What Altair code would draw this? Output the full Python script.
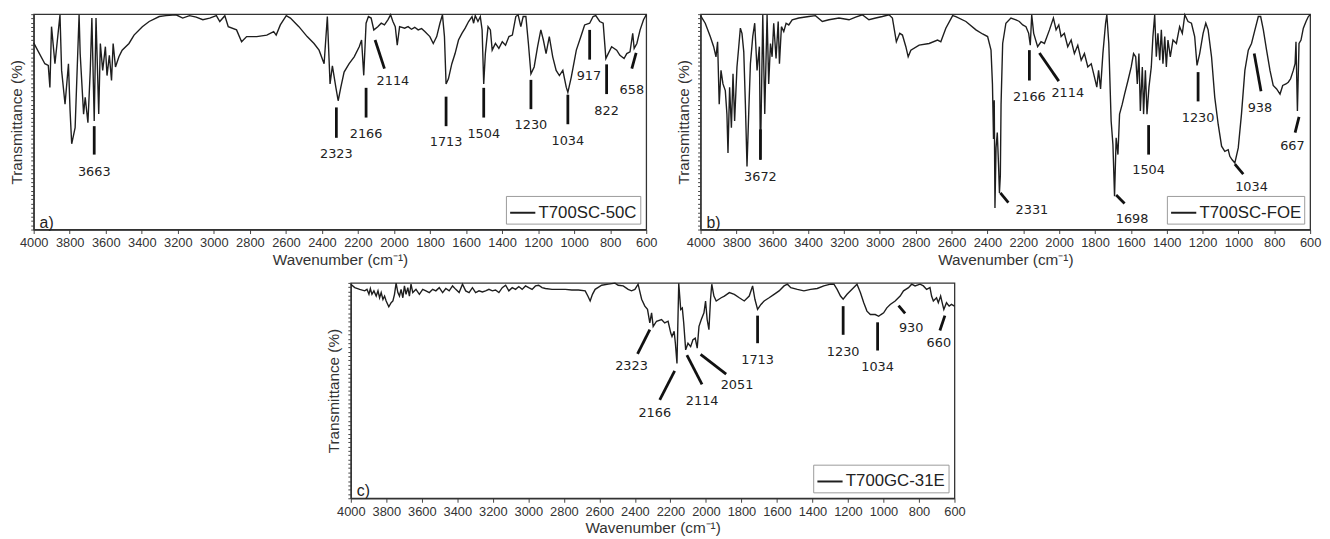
import altair as alt
import pandas as pd

# ---------------- Panel a) T700SC-50C ----------------
a_wn = [4000, 3938, 3919, 3910, 3901, 3882, 3854, 3845, 3826, 3807,
        3798, 3789, 3770, 3748, 3742, 3723, 3714, 3699, 3686, 3677,
        3664, 3654, 3639, 3630, 3617, 3602, 3593, 3580, 3568, 3559,
        3546, 3527, 3509, 3471, 3443, 3397, 3359, 3303, 3266, 3210,
        3173, 3135, 3098, 3061, 3023, 2986, 2967, 2939, 2920, 2874,
        2846, 2818, 2762, 2706, 2668, 2654, 2631, 2598, 2575, 2528,
        2482, 2444, 2416, 2388, 2370, 2355, 2342, 2323, 2310, 2295,
        2277, 2249, 2221, 2193, 2180, 2168, 2155, 2142, 2127, 2112,
        2090, 2071, 2053, 2034, 2019, 2006, 1993, 1982, 1969, 1941,
        1922, 1903, 1885, 1866, 1847, 1829, 1801, 1782, 1763, 1745,
        1731, 1720, 1711, 1698, 1679, 1661, 1642, 1623, 1605, 1586,
        1567, 1558, 1549, 1534, 1521, 1511, 1502, 1493, 1478, 1465,
        1455, 1437, 1418, 1399, 1381, 1362, 1343, 1324, 1311, 1296,
        1283, 1268, 1254, 1240, 1222, 1203, 1185, 1171, 1156, 1138,
        1119, 1100, 1082, 1063, 1044, 1035, 1016, 988, 960, 942,
        914, 895, 880, 858, 839, 824, 811, 792, 764, 746,
        723, 708, 690, 675, 667, 652, 634, 615, 600]
a_t = [86.7, 77, 76.2, 66, 94.2, 77, 99.7, 73.9, 58.2, 77,
       55.1, 39.8, 47.3, 99.7, 81.7, 53.6, 61.4, 49.6, 73.9, 98.2,
       50.4, 98.2, 53.6, 86.4, 73.9, 84.9, 71.5, 80.9, 69.2, 86.4,
       75.5, 80.2, 83.3, 86.4, 90.3, 94.2, 96.6, 98.9, 99.3, 99.7,
       98.2, 99.3, 98.6, 97.4, 98.2, 99.3, 96.6, 99.3, 94.2, 92.7,
       87.2, 89.6, 89.6, 90.3, 91.9, 90.3, 95, 99.3, 98.2, 94.2,
       89.6, 86.4, 83.3, 77, 98.9, 67.6, 76, 66.1, 59.8, 66.1,
       73.1, 77, 80.2, 84.9, 88, 71.6, 95.8, 98.9, 98.2, 92.7,
       94.2, 95.8, 95, 97.4, 99.7, 96.6, 94.2, 85.6, 94.2, 93.5,
       94.2, 93, 93.9, 92.7, 93.3, 91.9, 89.6, 86.4, 89.6, 95.8,
       99.7, 89.6, 67.6, 70, 77, 81.7, 88, 91.1, 93.5, 96.6,
       98.9, 95.8, 99.3, 96.6, 98.9, 92.7, 67.6, 81.7, 94.2, 92.7,
       83.3, 86.4, 84.1, 87.2, 85.6, 89.6, 90.3, 98.9, 99.7, 94.2,
       98.9, 98.9, 86.4, 72.3, 75.5, 84.9, 92.7, 88, 81.7, 89.6,
       80.2, 73.9, 71.5, 73.9, 66.1, 63.7, 70.8, 83.3, 90.3, 95,
       95.8, 98.9, 99.3, 96.6, 95.8, 79.4, 81.7, 84.9, 83.3, 80.9,
       79.4, 81.7, 82.5, 91.1, 84.1, 86.4, 92.7, 97.4, 99.7]
a_pk_label = ["3663", "2323", "2166", "2114", "1713", "1504", "1230", "1034", "917", "822", "658"]
a_pk_x1 = [3664, 2320, 2155, 2105, 1711, 1502, 1240, 1035, 914, 820, 656]
a_pk_y1 = [48, 56.7, 65.8, 88, 61.7, 65.8, 69.5, 62.6, 92.7, 76.7, 82]
a_pk_x2 = [3664, 2320, 2155, 2053, 1711, 1502, 1240, 1035, 914, 820, 680]
a_pk_y2 = [34.8, 42.6, 52, 74.7, 48, 52, 55.9, 48.9, 78.9, 62.9, 74.7]
a_pk_lx = [3664, 2320, 2155, 2006, 1711, 1502, 1240, 1035, 918, 820, 680]
a_pk_ly = [26.8, 35.1, 44.5, 68.9, 40.7, 44.5, 48.5, 41.3, 71.1, 55.1, 64.8]

# ---------------- Panel b) T700SC-FOE ----------------
b_wn = [4000, 3974, 3946, 3927, 3914, 3905, 3896, 3886, 3875, 3862,
        3853, 3847, 3838, 3828, 3819, 3810, 3797, 3787, 3778, 3769,
        3759, 3750, 3741, 3731, 3722, 3709, 3698, 3685, 3672, 3666,
        3653, 3642, 3629, 3620, 3610, 3601, 3592, 3579, 3567, 3560,
        3549, 3536, 3523, 3508, 3489, 3452, 3396, 3359, 3321, 3284,
        3228, 3172, 3135, 3098, 3061, 3023, 2986, 2949, 2930, 2908,
        2889, 2874, 2855, 2842, 2827, 2781, 2725, 2678, 2660, 2632,
        2594, 2576, 2520, 2464, 2427, 2399, 2380, 2372, 2366, 2362,
        2358, 2352, 2345, 2338, 2333, 2328, 2324, 2315, 2297, 2269,
        2241, 2222, 2203, 2185, 2170, 2161, 2153, 2142, 2120, 2101,
        2082, 2054, 2032, 2017, 2002, 1989, 1971, 1952, 1933, 1915,
        1896, 1877, 1859, 1840, 1821, 1803, 1790, 1780, 1769, 1756,
        1741, 1734, 1723, 1710, 1700, 1691, 1682, 1672, 1663, 1648,
        1635, 1616, 1598, 1585, 1573, 1564, 1555, 1547, 1536, 1529,
        1519, 1510, 1499, 1486, 1477, 1467, 1458, 1449, 1439, 1430,
        1421, 1411, 1402, 1393, 1380, 1365, 1346, 1328, 1313, 1299,
        1281, 1262, 1244, 1231, 1216, 1197, 1182, 1169, 1150, 1132,
        1113, 1094, 1076, 1057, 1048, 1035, 1020, 1001, 983, 964,
        945, 927, 908, 889, 876, 861, 843, 824, 806, 787,
        768, 753, 735, 722, 709, 694, 684, 679, 671, 662,
        651, 638, 623, 610, 600]
b_t = [99.3, 95.8, 89.6, 84.9, 80.2, 87.2, 58.2, 73.9, 67.6, 64.5,
       53.6, 35.6, 66.1, 47.3, 72.3, 50.4, 75.5, 84.9, 93.5, 91.1,
       82.5, 58.2, 29.3, 55.1, 77, 89.6, 95.8, 73.9, 84.9, 32.4,
       99.7, 53.6, 99.7, 67.6, 86.4, 80.2, 95.8, 79.4, 96.6, 77,
       94.2, 91.9, 95.8, 95, 97.4, 98.2, 98.9, 99.3, 96.6, 97.4,
       98.2, 97.4, 98.6, 99.7, 97.4, 98.2, 98.9, 99.7, 98.2, 87.2,
       91.1, 90.3, 84.9, 80.2, 83.3, 85.6, 86.4, 88, 87.2, 93.5,
       99.3, 98.9, 96.6, 92.7, 90.8, 89.6, 83.3, 67.6, 42, 60,
       10, 38, 45, 30, 17, 25, 58, 86.4, 95.8, 98.2,
       97.4, 96.6, 95, 94.2, 91.1, 85.6, 99.7, 91.1, 84.9, 87.2,
       86.4, 92.7, 98.2, 92.7, 95, 89.6, 91.1, 84.9, 88, 81.7,
       85.6, 78.6, 81.7, 75.5, 77, 70.8, 66.1, 73.9, 65.3, 81.7,
       95.8, 99.7, 86.4, 50.4, 39.5, 15.5, 42.6, 34.8, 53.6, 58.2,
       62.9, 69.2, 75.5, 81.7, 80.2, 67.6, 81.7, 55.1, 75.5, 53.6,
       73.9, 53.6, 66.1, 75.5, 89.6, 99.7, 80.2, 91.1, 78.6, 92.7,
       77, 89.6, 75.5, 88, 80.2, 88, 86.4, 94.2, 91.1, 99.7,
       96.6, 95.8, 89.6, 76.2, 81.7, 91.1, 95.8, 92.7, 80.2, 61.4,
       48.9, 38.7, 36.3, 37.1, 34, 32.4, 30.9, 37.9, 53.6, 73.9,
       83.3, 86.4, 92.7, 98.9, 98.9, 92.7, 83.3, 73.9, 66.9, 65.3,
       62.9, 66.9, 67.6, 68.4, 70, 73.9, 77, 87.2, 55.1, 86.4,
       88, 93.5, 96.6, 98.9, 99.7]
b_pk_label = ["3672", "2331", "2166", "2114", "1698", "1504", "1230", "1034", "938", "667"]
b_pk_x1 = [3666, 2328, 2166, 2110, 1682, 1501, 1225, 1020, 912, 662]
b_pk_y1 = [46.5, 17, 83.3, 82, 16, 48.5, 73.1, 30.4, 81.7, 52.3]
b_pk_x2 = [3666, 2283, 2166, 2002, 1635, 1501, 1225, 973, 874, 684]
b_pk_y2 = [32.4, 12.5, 69.2, 68.9, 12.1, 34.8, 59.5, 25.7, 64.2, 45]
b_pk_lx = [3666, 2152, 2166, 1952, 1593, 1501, 1225, 927, 880, 699]
b_pk_ly = [24.3, 9.1, 61.7, 63.3, 4.8, 27.4, 52, 19.9, 56.4, 38.7]

# ---------------- Panel c) T700GC-31E ----------------
c_wn = [4000, 3978, 3950, 3922, 3909, 3898, 3890, 3881, 3870, 3857,
        3847, 3838, 3829, 3819, 3810, 3801, 3786, 3773, 3763, 3754,
        3745, 3735, 3726, 3717, 3707, 3698, 3689, 3679, 3670, 3661,
        3651, 3633, 3614, 3595, 3577, 3558, 3539, 3521, 3502, 3483,
        3465, 3446, 3427, 3409, 3390, 3371, 3353, 3334, 3315, 3297,
        3278, 3259, 3241, 3222, 3203, 3185, 3166, 3147, 3128, 3110,
        3091, 3072, 3054, 3035, 3016, 2998, 2979, 2960, 2942, 2923,
        2904, 2867, 2830, 2792, 2755, 2718, 2680, 2665, 2652, 2639,
        2624, 2587, 2550, 2512, 2494, 2466, 2438, 2419, 2400, 2382,
        2362, 2344, 2329, 2316, 2306, 2297, 2278, 2250, 2232, 2213,
        2198, 2191, 2179, 2172, 2163, 2153, 2142, 2133, 2125, 2114,
        2101, 2086, 2073, 2060, 2049, 2039, 2026, 2011, 2002, 1993,
        1983, 1974, 1967, 1955, 1942, 1914, 1896, 1868, 1840, 1812,
        1784, 1756, 1737, 1724, 1709, 1690, 1672, 1644, 1616, 1588,
        1560, 1541, 1522, 1485, 1448, 1410, 1373, 1336, 1298, 1279,
        1261, 1242, 1227, 1205, 1177, 1149, 1130, 1111, 1093, 1074,
        1046, 1027, 1014, 999, 981, 962, 934, 906, 887, 859,
        841, 822, 794, 775, 757, 738, 729, 719, 701, 691,
        678, 667, 660, 645, 630, 617, 600]
c_t = [99.4, 97.8, 97, 96.3, 97, 94.7, 97.4, 94.7, 96.3, 93.9,
       96.3, 93.1, 95.5, 92.3, 93.9, 91.6, 88.9, 90.8, 91.6, 94.7,
       99.9, 95.5, 93.9, 97, 93.1, 98.6, 94.7, 97.8, 93.9, 99.4,
       95.5, 97, 94.7, 97, 96.3, 95.5, 97, 96.3, 97.8, 95.5,
       97.4, 96.3, 98.6, 97, 95.5, 99.4, 96.3, 95.5, 97.8, 95.5,
       96.3, 95.8, 96.3, 97, 96.3, 96.7, 95.5, 97.8, 98.9, 96.3,
       97.8, 97, 98.3, 97, 98.6, 97.8, 97, 98.6, 98.9, 97.8,
       97.4, 97, 97, 97, 96.7, 96.7, 96.3, 93.9, 91.6, 94.7,
       97, 98.9, 99.4, 99.9, 98.9, 98.6, 97, 96.3, 97, 99.4,
       92.4, 89.2, 87.7, 81.4, 86.1, 79.8, 82.2, 83, 81.4, 82.2,
       76.7, 75.1, 77.5, 72, 62.6, 99.8, 87.7, 88.4, 81.4, 68.9,
       72, 70.4, 73.6, 74.3, 69.7, 79.8, 83, 86.1, 91.6, 83,
       78.3, 92.4, 99.4, 93.9, 91.6, 93.1, 93.9, 95.5, 94.7, 93.1,
       91.6, 93.9, 98.6, 92.4, 87.7, 90, 91.6, 93.1, 94.7, 96.3,
       98.6, 99.4, 97.8, 97, 96.3, 97, 97.4, 98.6, 99.4, 99.4,
       97, 93.9, 92.4, 94.7, 97, 99.4, 95.5, 90.8, 86.9, 85.3,
       85.3, 84.5, 85.3, 86.1, 88.4, 90, 91.6, 93.9, 96.3, 97.8,
       99.4, 98.6, 99.4, 98.6, 97, 97.8, 93.9, 91.6, 93.1, 90.8,
       93.9, 90, 87.7, 90.8, 89.2, 90, 89.2]
c_pk_label = ["2323", "2166", "2114", "2051", "1713", "1230", "1034", "930", "660"]
c_pk_x1 = [2316, 2176, 2107, 2030, 1709, 1227, 1033, 915, 654]
c_pk_y1 = [78.3, 59.2, 66.5, 66.8, 84.8, 89.2, 81.7, 89.5, 84.8]
c_pk_x2 = [2385, 2260, 2022, 1886, 1709, 1227, 1033, 878, 682]
c_pk_y2 = [67, 45.7, 52.9, 57.6, 72, 75.9, 68.6, 85.8, 77.9]
c_pk_lx = [2419, 2288, 2021, 1825, 1709, 1227, 1033, 844, 688]
c_pk_ly = [61.4, 39.4, 45.1, 52.4, 64.2, 68.1, 60.7, 79, 72]

X_TICKS = list(range(4000, 599, -200))
Y_TICKS = list(range(0, 101, 2))
FONT = "Liberation Sans"
INK = "#1e1e1e"


def xenc(field):
    return alt.X(
        field,
        type="quantitative",
        scale=alt.Scale(domain=[600, 4000], reverse=True, nice=False, zero=False),
        axis=alt.Axis(
            title="Wavenumber (cm\u207b\u00b9)",
            values=X_TICKS,
            format="d",
            labelFlush=False,
            labelOverlap=False,
            labelFontSize=13,
            titleFontSize=15.5,
            tickSize=4,
            labelPadding=3,
            titlePadding=3,
        ),
    )


def yenc(field):
    return alt.Y(
        field,
        type="quantitative",
        scale=alt.Scale(domain=[0, 100], nice=False, zero=False),
        axis=alt.Axis(
            title="Transmittance (%)",
            labels=False,
            values=Y_TICKS,
            tickSize=3,
            titlePadding=6,
            titleFontSize=15.5,
        ),
    )


def panel(wn, tr, name, lab, x1, y1, x2, y2, lx, ly, letter, width, height):
    spec = pd.DataFrame({"wn": wn, "t": tr, "series": [name] * len(wn)})
    pk = pd.DataFrame({"label": lab, "x1": x1, "y1": y1, "x2": x2, "y2": y2, "lx": lx, "ly": ly})
    line = alt.Chart(spec).mark_line(strokeWidth=1.4).encode(
        x=xenc("wn"),
        y=yenc("t"),
        color=alt.Color(
            "series:N",
            scale=alt.Scale(range=[INK]),
            legend=alt.Legend(
                title=None,
                orient="bottom-right",
                offset=6,
                strokeColor="#9a9a9a",
                fillColor="white",
                padding=3,
                labelFontSize=17,
                labelFont=FONT,
                labelColor="#222",
                symbolType="stroke",
                symbolSize=650,
                symbolStrokeWidth=2,
                labelOffset=2,
            ),
        ),
    )
    rules = alt.Chart(pk).mark_rule(strokeWidth=2.8, color="#111").encode(
        x=xenc("x1"), x2=alt.X2("x2"), y=yenc("y1"), y2=alt.Y2("y2")
    )
    texts = alt.Chart(pk).mark_text(font="DejaVu Sans", fontSize=13, color="#222").encode(
        x=xenc("lx"), y=yenc("ly"), text="label:N"
    )
    letter_mark = alt.Chart(pd.DataFrame({"t": [letter]})).mark_text(
        font=FONT, fontSize=16, align="left", baseline="middle", color="#222"
    ).encode(x=alt.value(6), y=alt.value(height - 7), text="t:N")
    return alt.layer(line, rules, texts, letter_mark).properties(width=width, height=height)


pa = panel(a_wn, a_t, "T700SC-50C", a_pk_label, a_pk_x1, a_pk_y1, a_pk_x2, a_pk_y2, a_pk_lx, a_pk_ly, "a)", 620, 218)
pb = panel(b_wn, b_t, "T700SC-FOE", b_pk_label, b_pk_x1, b_pk_y1, b_pk_x2, b_pk_y2, b_pk_lx, b_pk_ly, "b)", 617, 218)
pc = panel(c_wn, c_t, "T700GC-31E", c_pk_label, c_pk_x1, c_pk_y1, c_pk_x2, c_pk_y2, c_pk_lx, c_pk_ly, "c)", 611, 218)

spacer = alt.Chart(pd.DataFrame({"v": [0]})).mark_point(opacity=0).encode(
    x=alt.X("v:Q", axis=None), y=alt.Y("v:Q", axis=None)
).properties(width=295, height=10, view=alt.ViewBackground(strokeOpacity=0))

top = alt.hconcat(pa, pb, spacing=17).resolve_scale(color="independent")
bottom = alt.hconcat(spacer, pc, spacing=0).resolve_scale(color="independent")

chart = (
    alt.vconcat(top, bottom, spacing=10)
    .resolve_scale(color="independent")
    .properties(padding={"left": 0, "top": 0, "right": 0, "bottom": 0})
    .configure_view(stroke="#333", strokeWidth=1.3)
    .configure_axis(
        labelFont=FONT,
        titleFont=FONT,
        labelColor="#333",
        titleColor="#333",
        titleFontWeight="normal",
        domainColor="#333",
        domainWidth=1.3,
        tickColor="#444",
        grid=False,
    )
)

chart.save("out.html", embed_options={"renderer": "svg", "actions": False})
